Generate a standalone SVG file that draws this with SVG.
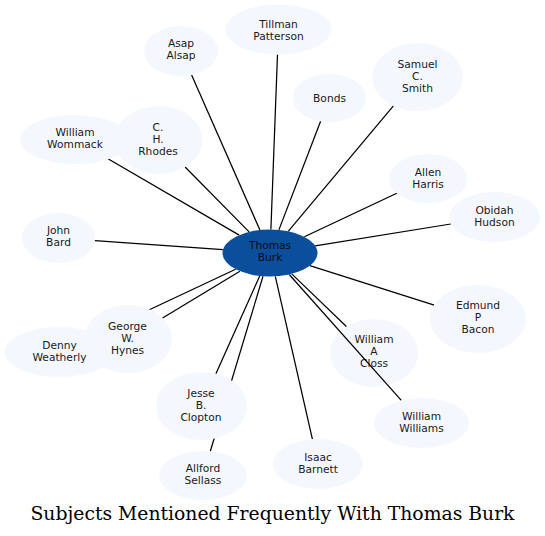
<svg xmlns="http://www.w3.org/2000/svg" width="545" height="536" viewBox="0 0 545 536">
<style>
.n ellipse{fill:#f4f8fe;stroke:none}
.n text{font-family:"DejaVu Sans",sans-serif;font-size:10.67px;fill:#1a1a1a;text-anchor:middle}
#thomas ellipse{fill:#0b4f9c}
#thomas text{fill:#0a0a14}
#edges line{stroke:#000;stroke-width:1.25}
.title{font-family:"DejaVu Serif",serif;font-size:18.67px;fill:#000;text-anchor:middle}
</style>
<rect width="545" height="536" fill="#fff"/>
<g id="closs" class="n"><ellipse cx="374" cy="353" rx="44" ry="34"/><text x="374" y="343">William</text><text x="374" y="355">A</text><text x="374" y="367">Closs</text></g>
<g id="edges">
<line x1="259.9" y1="230" x2="191.6" y2="75"/>
<line x1="270.9" y1="229.5" x2="277.5" y2="54.5"/>
<line x1="278.9" y1="229.9" x2="320.6" y2="121.3"/>
<line x1="288.2" y1="231.3" x2="393.4" y2="105.8"/>
<line x1="304.4" y1="236.8" x2="396.8" y2="193.2"/>
<line x1="315.2" y1="245.8" x2="450.8" y2="224"/>
<line x1="309.9" y1="265.7" x2="434.2" y2="305.1"/>
<line x1="291.7" y1="273.9" x2="346.4" y2="326.5"/>
<line x1="289.2" y1="274.5" x2="401.3" y2="400.4"/>
<line x1="275.3" y1="276.4" x2="312.4" y2="439.2"/>
<line x1="263" y1="276.3" x2="210.3" y2="451.3"/>
<line x1="259.7" y1="276" x2="215.9" y2="373.7"/>
<line x1="235.6" y1="269.2" x2="97.7" y2="334"/>
<line x1="239.9" y1="271.2" x2="162.6" y2="318"/>
<line x1="222.9" y1="249.7" x2="94.8" y2="240.6"/>
<line x1="239.2" y1="235.1" x2="108.4" y2="159"/>
<line x1="249.1" y1="231.9" x2="185.1" y2="167"/>
</g>
<g id="asap" class="n"><ellipse cx="181" cy="51" rx="37" ry="25"/><text x="181" y="47">Asap</text><text x="181" y="59">Alsap</text></g>
<g id="tillman" class="n"><ellipse cx="278.5" cy="29.5" rx="53" ry="25"/><text x="278.5" y="27.5">Tillman</text><text x="278.5" y="39.5">Patterson</text></g>
<g id="wommack" class="n"><ellipse cx="75" cy="139.5" rx="55" ry="24.5"/><text x="75" y="136">William</text><text x="75" y="148">Wommack</text></g>
<g id="rhodes" class="n"><ellipse cx="158.5" cy="140" rx="44" ry="34"/><text x="158" y="131">C.</text><text x="158" y="143">H.</text><text x="158" y="155">Rhodes</text></g>
<g id="bard" class="n"><ellipse cx="58.5" cy="238" rx="36.5" ry="25"/><text x="58.5" y="234">John</text><text x="58.5" y="246">Bard</text></g>
<g id="bonds" class="n"><ellipse cx="329.5" cy="98" rx="36.5" ry="24"/><text x="329.5" y="101.5">Bonds</text></g>
<g id="smith" class="n"><ellipse cx="417.5" cy="77" rx="45.5" ry="34"/><text x="417.5" y="68">Samuel</text><text x="417.5" y="80">C.</text><text x="417.5" y="92">Smith</text></g>
<g id="harris" class="n"><ellipse cx="428" cy="178.5" rx="39" ry="24.5"/><text x="428" y="176">Allen</text><text x="428" y="188">Harris</text></g>
<g id="hudson" class="n"><ellipse cx="494.5" cy="217" rx="45.5" ry="25"/><text x="494.5" y="214">Obidah</text><text x="494.5" y="226">Hudson</text></g>
<g id="bacon" class="n"><ellipse cx="478" cy="319" rx="48" ry="34"/><text x="478" y="309">Edmund</text><text x="478" y="321">P</text><text x="478" y="333">Bacon</text></g>
<g id="williams" class="n"><ellipse cx="421.5" cy="423" rx="47.5" ry="25"/><text x="421.5" y="420">William</text><text x="421.5" y="432">Williams</text></g>
<g id="barnett" class="n"><ellipse cx="318" cy="464" rx="45" ry="25"/><text x="318" y="461">Isaac</text><text x="318" y="473">Barnett</text></g>
<g id="sellass" class="n"><ellipse cx="203" cy="475.5" rx="44" ry="24.5"/><text x="203" y="472">Allford</text><text x="203" y="484">Sellass</text></g>
<g id="clopton" class="n"><ellipse cx="201.5" cy="406" rx="45.5" ry="34"/><text x="201" y="397">Jesse</text><text x="201" y="409">B.</text><text x="201" y="421">Clopton</text></g>
<g id="weatherly" class="n"><ellipse cx="59.5" cy="352" rx="55" ry="25"/><text x="59.5" y="349">Denny</text><text x="59.5" y="361">Weatherly</text></g>
<g id="hynes" class="n"><ellipse cx="128" cy="339" rx="44" ry="34"/><text x="127.5" y="330">George</text><text x="127.5" y="342">W.</text><text x="127.5" y="354">Hynes</text></g>
<g id="thomas" class="n"><ellipse cx="270" cy="253" rx="47.5" ry="23.5"/><text x="270" y="248.5">Thomas</text><text x="270" y="261">Burk</text></g>
<text class="title" x="272.5" y="520" textLength="484" lengthAdjust="spacingAndGlyphs">Subjects Mentioned Frequently With Thomas Burk</text>
</svg>
